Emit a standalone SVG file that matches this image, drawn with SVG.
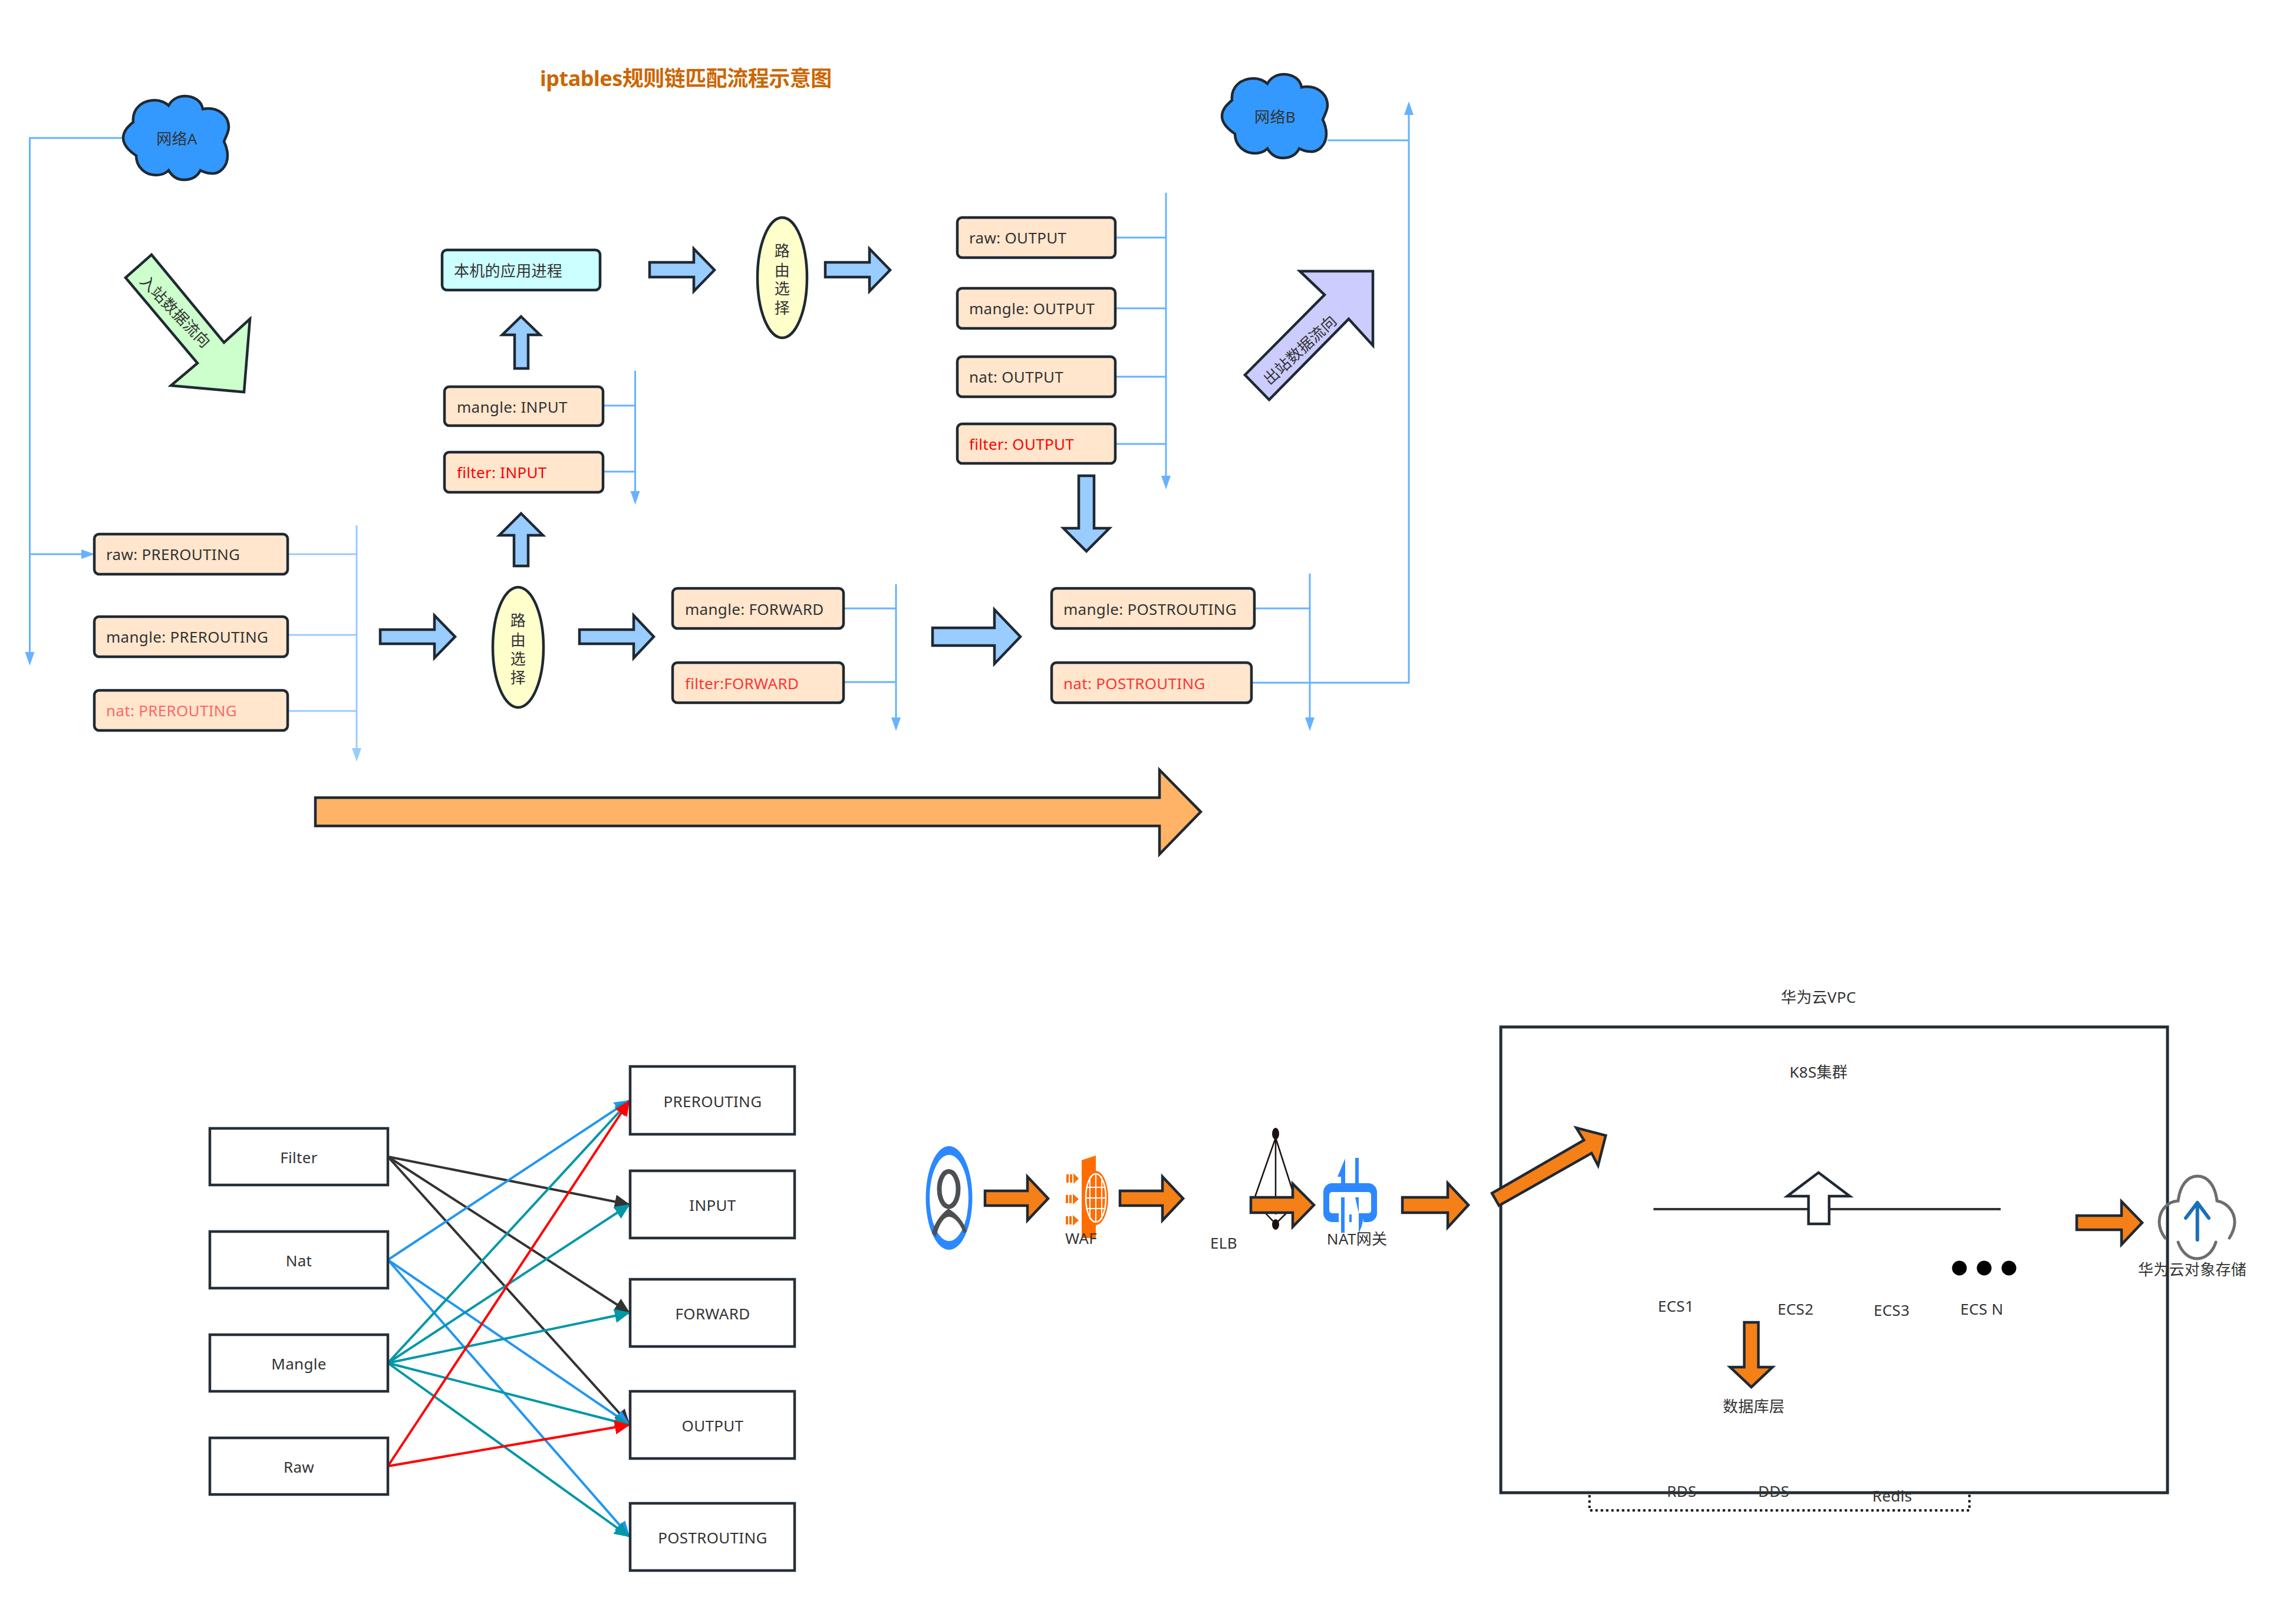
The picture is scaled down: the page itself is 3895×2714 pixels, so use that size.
<svg xmlns="http://www.w3.org/2000/svg" width="3895" height="2714" viewBox="0 0 3895 2714">
<style>
text{font-family:"Noto Sans","Noto Sans CJK SC",sans-serif;font-size:26px;letter-spacing:.3px;fill:#333;dominant-baseline:central}
.m{text-anchor:middle}
.r{fill:#ff0000}.r2{fill:#ff3333}.r3{fill:#ff6666}
.box{fill:#ffe6cc;stroke:#1f2933;stroke-width:4.500}
.plain{fill:#fff;stroke:#262f38;stroke-width:4.500}
.blk{stroke:#1f2933;stroke-width:4.500;stroke-linejoin:miter}
.b{fill:#99ccff}.o{fill:#f58018}.lo{fill:#ffb366}
.c1{fill:none;stroke:#66b2ff;stroke-width:3}
.c2{fill:none;stroke:#99ccff;stroke-width:3}
.e{fill:none;stroke-width:4}
</style>
<defs>
<marker id="h1" markerUnits="userSpaceOnUse" markerWidth="30" markerHeight="20" refX="13" refY="8" orient="auto"><path d="M0 0L23 8L0 16Z" fill="#66b2ff"/></marker>
<marker id="h2" markerUnits="userSpaceOnUse" markerWidth="30" markerHeight="20" refX="13" refY="8" orient="auto"><path d="M0 0L23 8L0 16Z" fill="#99ccff"/></marker>
<marker id="hk" markerUnits="userSpaceOnUse" markerWidth="30" markerHeight="26" refX="24" refY="12" orient="auto"><path d="M0 0L26 12L0 24Z" fill="#333"/></marker>
<marker id="hb" markerUnits="userSpaceOnUse" markerWidth="30" markerHeight="26" refX="24" refY="12" orient="auto"><path d="M0 0L26 12L0 24Z" fill="#2196f3"/></marker>
<marker id="ht" markerUnits="userSpaceOnUse" markerWidth="30" markerHeight="26" refX="24" refY="12" orient="auto"><path d="M0 0L26 12L0 24Z" fill="#0097a7"/></marker>
<marker id="hr" markerUnits="userSpaceOnUse" markerWidth="30" markerHeight="26" refX="24" refY="12" orient="auto"><path d="M0 0L26 12L0 24Z" fill="#ff0000"/></marker>
<path id="cloud" d="M209 234C209 222 218 214 226 207C224 185 240 170 263 170C272 170 281 174 286 179C292 168 303 163 314 163C330 163 342 172 344 185C368 180 388 195 388 216C388 224 383 232 380 240C384 248 386 256 386 264C386 283 372 296 358 294C352 294 346 292 340 289C335 299 325 305 312 305C300 305 292 299 286 289C280 295 273 297 265 297C246 297 231 283 231 264C219 256 209 246 209 234Z"/>
</defs>
<rect width="3895" height="2714" fill="#fff"/>
<text id="title" x="916" y="132" style="font-size:36px;font-weight:700;fill:#cc6600;letter-spacing:-.5px">iptables规则链匹配流程示意图</text>

<g id="connectors">
<path class="c1" marker-end="url(#h1)" d="M209 234H50.500V1119"/>
<path class="c1" marker-end="url(#h1)" d="M50.500 940H151"/>
<path class="c2" d="M488 940H605M488 1077H605M488 1206H605"/>
<path class="c2" marker-end="url(#h2)" d="M605 891V1282"/>
<path class="c1" d="M1023 688H1077M1023 800H1077"/>
<path class="c1" marker-end="url(#h1)" d="M1077.500 629V846"/>
<path class="c1" d="M1892 403H1978M1892 523H1978M1892 639H1978M1892 753H1978"/>
<path class="c1" marker-end="url(#h1)" d="M1978 327V820"/>
<path class="c1" d="M1431 1032H1520M1431 1157H1520"/>
<path class="c1" marker-end="url(#h1)" d="M1520 991V1230"/>
<path class="c1" d="M2128 1032H2222"/>
<path class="c1" marker-end="url(#h1)" d="M2222 973V1230"/>
<path class="c1" marker-end="url(#h1)" d="M2124 1158H2390V182"/>
<path class="c1" d="M2252 238H2390"/>
<path class="e" stroke="#333" marker-end="url(#hk)" d="M658 1962L1067 2043"/>
<path class="e" stroke="#333" marker-end="url(#hk)" d="M658 1962L1067 2226"/>
<path class="e" stroke="#333" marker-end="url(#hk)" d="M658 1962L1067 2415"/>
<path class="e" stroke="#2196f3" marker-end="url(#hb)" d="M658 2137L1067 1867"/>
<path class="e" stroke="#2196f3" marker-end="url(#hb)" d="M658 2137L1067 2416"/>
<path class="e" stroke="#2196f3" marker-end="url(#hb)" d="M658 2137L1067 2605"/>
<path class="e" stroke="#0097a7" marker-end="url(#ht)" d="M658 2312L1067 1868"/>
<path class="e" stroke="#0097a7" marker-end="url(#ht)" d="M658 2312L1067 2044"/>
<path class="e" stroke="#0097a7" marker-end="url(#ht)" d="M658 2312L1067 2227"/>
<path class="e" stroke="#0097a7" marker-end="url(#ht)" d="M658 2312L1067 2417"/>
<path class="e" stroke="#0097a7" marker-end="url(#ht)" d="M658 2312L1067 2606"/>
<path class="e" stroke="#ff0000" marker-end="url(#hr)" d="M658 2487L1067 1868"/>
<path class="e" stroke="#ff0000" marker-end="url(#hr)" d="M658 2487L1067 2417"/>
</g>

<g id="net-a"><use href="#cloud" fill="#3399ff" stroke="#1f2933" stroke-width="4.500"/><text class="m" x="300" y="235">网络A</text></g>
<g id="net-b"><use href="#cloud" x="1864" y="-37" fill="#3399ff" stroke="#1f2933" stroke-width="4.500"/><text class="m" x="2163" y="198">网络B</text></g>
<g id="inbound"><polygon points="257,432 380,581 424,541 414,665 290,654 335,616 213,471" fill="#ccffcc" class="blk"/><text class="m" transform="translate(298 528) rotate(46)">入站数据流向</text></g>
<g id="outbound"><polygon points="2205,460 2329,460 2329,586 2288,541 2153,678 2112,636 2247,500" fill="#ccccff" class="blk"/><text class="m" transform="translate(2205 593) rotate(-43)">出站数据流向</text></g>

<g id="raw-pre"><rect class="box" x="160" y="906" width="328" height="68" rx="8"/><text x="180" y="940">raw: PREROUTING</text></g>
<g id="mangle-pre"><rect class="box" x="160" y="1046" width="328" height="68" rx="8"/><text x="180" y="1080">mangle: PREROUTING</text></g>
<g id="nat-pre"><rect class="box" x="160" y="1171" width="328" height="68" rx="8"/><text class="r3" x="180" y="1205">nat: PREROUTING</text></g>
<g id="app"><rect class="box" style="fill:#ccffff" x="750" y="424" width="268" height="68" rx="8"/><text x="770" y="459">本机的应用进程</text></g>
<g id="mangle-in"><rect class="box" x="754" y="656" width="269" height="66" rx="8"/><text x="775" y="690">mangle: INPUT</text></g>
<g id="filter-in"><rect class="box" x="754" y="767" width="269" height="68" rx="8"/><text class="r" x="775" y="801">filter: INPUT</text></g>
<g id="raw-out"><rect class="box" x="1624" y="369" width="268" height="68" rx="8"/><text x="1644" y="403">raw: OUTPUT</text></g>
<g id="mangle-out"><rect class="box" x="1624" y="489" width="268" height="68" rx="8"/><text x="1644" y="523">mangle: OUTPUT</text></g>
<g id="nat-out"><rect class="box" x="1624" y="605" width="268" height="68" rx="8"/><text x="1644" y="639">nat: OUTPUT</text></g>
<g id="filter-out"><rect class="box" x="1624" y="719" width="268" height="67" rx="8"/><text class="r" x="1644" y="753">filter: OUTPUT</text></g>
<g id="mangle-fwd"><rect class="box" x="1141" y="998" width="290" height="68" rx="8"/><text x="1162" y="1033">mangle: FORWARD</text></g>
<g id="filter-fwd"><rect class="box" x="1141" y="1124" width="290" height="68" rx="8"/><text class="r2" x="1162" y="1159">filter:FORWARD</text></g>
<g id="mangle-post"><rect class="box" x="1784" y="998" width="344" height="68" rx="8"/><text x="1804" y="1033">mangle: POSTROUTING</text></g>
<g id="nat-post"><rect class="box" x="1784" y="1124" width="339" height="68" rx="8"/><text class="r2" x="1804" y="1159">nat: POSTROUTING</text></g>

<g id="route-1"><ellipse cx="879" cy="1098" rx="43" ry="102" fill="#ffffcc" stroke="#1f2933" stroke-width="4.500"/><text class="m" x="879"><tspan x="879" y="1052">路</tspan><tspan x="879" y="1085">由</tspan><tspan x="879" y="1117">选</tspan><tspan x="879" y="1149">择</tspan></text></g>
<g id="route-2"><ellipse cx="1327" cy="471" rx="42" ry="102" fill="#ffffcc" stroke="#1f2933" stroke-width="4.500"/><text class="m" x="1327"><tspan x="1327" y="425">路</tspan><tspan x="1327" y="458">由</tspan><tspan x="1327" y="489">选</tspan><tspan x="1327" y="522">择</tspan></text></g>

<g id="block-arrows">
<polygon class="blk b" points="645,1068 737,1068 737,1044 772,1080 737,1116 737,1092 645,1092"/>
<polygon class="blk b" points="983,1068 1075,1068 1075,1044 1109,1080 1075,1116 1075,1092 983,1092"/>
<polygon class="blk b" points="884,871 921,908 896,908 896,960 872,960 872,908 847,908"/>
<polygon class="blk b" points="884,537 916,568 896,568 896,625 873,625 873,568 852,568"/>
<polygon class="blk b" points="1102,445 1177,445 1177,422 1212,458 1177,494 1177,470 1102,470"/>
<polygon class="blk b" points="1400,445 1475,445 1475,422 1510,458 1475,494 1475,470 1400,470"/>
<polygon class="blk b" points="1830,807 1856,807 1856,896 1882,896 1843,935 1804,896 1830,896"/>
<polygon class="blk b" points="1582,1065 1687,1065 1687,1034 1731,1080 1687,1126 1687,1095 1582,1095"/>
<polygon class="blk lo" points="535,1353 1967,1353 1967,1306 2037,1377 1967,1449 1967,1401 535,1401"/>
</g>

<g id="t-filter"><rect class="plain" x="356" y="1914" width="302" height="96"/><text class="m" x="507" y="1963">Filter</text></g>
<g id="t-nat"><rect class="plain" x="356" y="2089" width="302" height="96"/><text class="m" x="507" y="2138">Nat</text></g>
<g id="t-mangle"><rect class="plain" x="356" y="2264" width="302" height="96"/><text class="m" x="507" y="2313">Mangle</text></g>
<g id="t-raw"><rect class="plain" x="356" y="2439" width="302" height="96"/><text class="m" x="507" y="2488">Raw</text></g>
<g id="c-pre"><rect class="plain" x="1069" y="1809" width="279" height="115"/><text class="m" x="1209" y="1868">PREROUTING</text></g>
<g id="c-in"><rect class="plain" x="1069" y="1986" width="279" height="114"/><text class="m" x="1209" y="2044">INPUT</text></g>
<g id="c-fwd"><rect class="plain" x="1069" y="2170" width="279" height="114"/><text class="m" x="1209" y="2228">FORWARD</text></g>
<g id="c-out"><rect class="plain" x="1069" y="2360" width="279" height="114"/><text class="m" x="1209" y="2418">OUTPUT</text></g>
<g id="c-post"><rect class="plain" x="1069" y="2550" width="279" height="114"/><text class="m" x="1209" y="2608">POSTROUTING</text></g>

<g id="user">
<ellipse cx="1610" cy="2032" rx="39.500" ry="88" fill="#2b88ff"/><ellipse cx="1610" cy="2032" rx="33" ry="73" fill="#fff"/>
<ellipse cx="1609.500" cy="2017" rx="16" ry="30" fill="none" stroke="#4d5052" stroke-width="8"/>
<path d="M1609 2050C1595 2060 1585 2075 1581 2092L1588 2098C1592 2080 1600 2064 1610 2064C1620 2064 1630 2078 1635 2092L1640 2088C1635 2073 1625 2060 1609 2050Z" fill="#4d5052"/>
</g>
<g id="waf">
<polygon points="1835,1968 1859,1960 1859,2100 1835,2100" fill="#ff6d00"/>
<ellipse cx="1859" cy="2032" rx="21" ry="46" fill="#ff6d00"/>
<ellipse cx="1859" cy="2032" rx="17" ry="41" fill="#ff6d00" stroke="#fff" stroke-width="2.500"/>
<path d="M1859 1991V2073M1849 1996V2068M1869 1996V2068M1842 2014H1876M1842 2032H1876M1842 2050H1876" stroke="#fff" stroke-width="2" fill="none"/>
<path d="M1809 1992h4v14h-4zM1815 1992h4v14h-4zM1821 1990l9 9-9 9zM1808 2027h4v14h-4zM1814 2027h4v14h-4zM1820 2025l10 9-10 9zM1808 2063h4v14h-4zM1814 2063h4v14h-4zM1820 2061l10 9-10 9z" fill="#ff6d00"/>
<text class="m" x="1834" y="2100">WAF</text>
</g>
<g id="elb">
<ellipse cx="2164" cy="1923" rx="6" ry="10" fill="#1a1311"/><ellipse cx="2164" cy="2077" rx="6" ry="9" fill="#1a1311"/>
<path d="M2164 1930L2128 2033M2164 1930V2060M2164 1930L2197 2033M2146 2057L2164 2076L2183 2057" stroke="#1a1311" stroke-width="2.500" fill="none"/>
<text class="m" x="2076" y="2108">ELB</text>
</g>
<g id="nat-gw">
<rect x="2245" y="2007" width="91" height="66" rx="15" fill="#2d88ff"/>
<rect x="2255" y="2022" width="71" height="36" rx="5" fill="#fff"/>
<rect x="2271" y="2055" width="42" height="20" fill="#fff"/>
<path d="M2282 1965L2269 1996H2275V2007H2282ZM2299 1964h6v44h-6zM2275 2031h6v60h-6zM2299 2031h6v58l-2 8 7-17 5-22h-10zM2289 2060h4v13h-4z" fill="#2d88ff"/>
<text class="m" x="2302" y="2101">NAT网关</text>
</g>
<g id="flow-arrows">
<polygon class="blk o" points="1671,2020 1743,2020 1743,1996 1778,2033 1743,2070 1743,2045 1671,2045"/>
<polygon class="blk o" points="1900,2020 1972,2020 1972,1996 2007,2033 1972,2070 1972,2045 1900,2045"/>
<polygon class="blk o" points="2122,2031 2193,2031 2193,2008 2229,2044 2193,2081 2193,2057 2122,2057"/>
<polygon class="blk o" points="2379,2031 2456,2031 2456,2007 2491,2044 2456,2082 2456,2057 2379,2057"/>
<polygon class="blk o" points="3523,2062 3599,2062 3599,2038 3634,2074 3599,2111 3599,2086 3523,2086"/>
<polygon class="blk o" points="2959,2243 2983,2243 2983,2319 3007,2319 2971,2353 2935,2319 2959,2319"/>
</g>
<g id="db-layer"><rect x="2696.500" y="2532" width="644.500" height="30" fill="none" stroke="#111" stroke-width="4" stroke-dasharray="4 5"/></g>
<g id="vpc"><rect x="2546" y="1742" width="1131" height="790" fill="none" stroke="#232d36" stroke-width="5"/></g>
<polygon id="to-k8s" class="blk o" points="2531,2024 2687,1934 2674,1913 2724,1926 2711,1977 2700,1956 2543,2045"/>
<path id="k8s-line" d="M2805 2051H3394" stroke="#333" stroke-width="4" fill="none"/>
<polygon id="k8s-up" class="blk" fill="#fff" points="3085,1989 3138,2029 3103,2029 3103,2076 3068,2076 3068,2029 3032,2029"/>
<g id="dots" fill="#000"><circle cx="3324" cy="2151" r="12.500"/><circle cx="3366" cy="2151" r="12.500"/><circle cx="3408" cy="2151" r="12.500"/></g>
<g id="labels">
<text class="m" x="3085" y="1691">华为云VPC</text>
<text class="m" x="3085" y="1818">K8S集群</text>
<text class="m" x="2843" y="2215">ECS1</text>
<text class="m" x="3046" y="2220">ECS2</text>
<text class="m" x="3209" y="2222">ECS3</text>
<text class="m" x="3362" y="2220">ECS N</text>
<text class="m" x="2975" y="2385">数据库层</text>
<text class="m" x="2853" y="2529">RDS</text>
<text class="m" x="3009" y="2529">DDS</text>
<text class="m" x="3210" y="2537">Redis</text>
</g>
<g id="obs">
<path d="M3673 2100C3667 2092 3663 2083 3663 2073C3663 2053 3677 2038 3695 2037C3698 2012 3710 1995 3728 1995C3746 1995 3758 2012 3761 2037C3778 2040 3791 2055 3791 2073C3791 2083 3787 2092 3782 2100M3695 2107C3701 2124 3713 2135 3727 2135C3741 2135 3754 2124 3759 2107" fill="none" stroke="#6d6d6d" stroke-width="5" stroke-linecap="round"/>
<path d="M3727.700 2103V2040M3708 2066L3727.700 2040L3747 2066" fill="none" stroke="#1a6fb8" stroke-width="6" stroke-linecap="round" stroke-linejoin="round"/>
<text class="m" x="3719" y="2153">华为云对象存储</text>
</g>
</svg>
